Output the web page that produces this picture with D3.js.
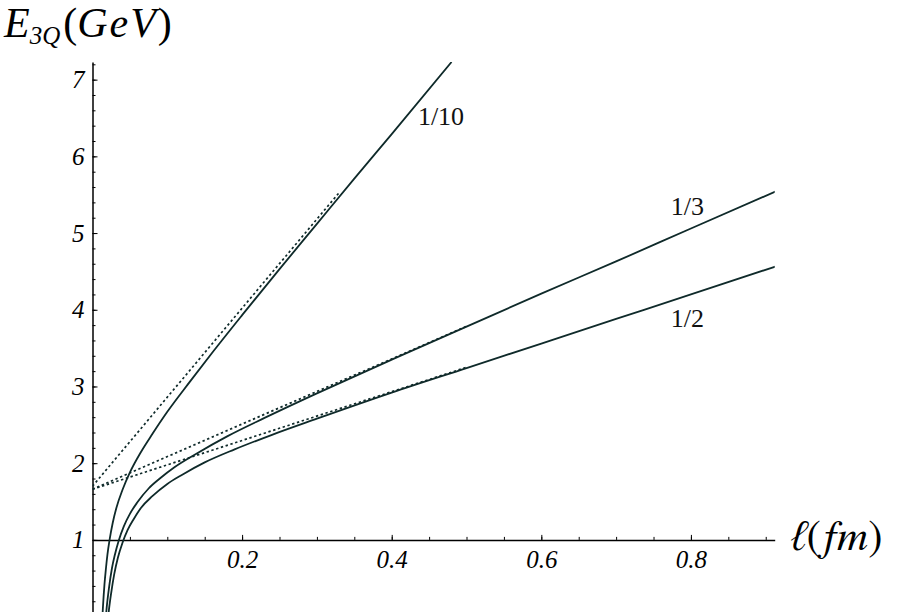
<!DOCTYPE html>
<html>
<head>
<meta charset="utf-8">
<script src="https://cdn.jsdelivr.net/npm/d3@7"></script>
</head>
<body style="margin:0">
<script>
/** DATA */
// l in fm, E_3Q in GeV, one curve per value of the parameter (1/10, 1/3, 1/2)
const ell_10 = [0.0125, 0.013, 0.014, 0.016, 0.018, 0.02, 0.023, 0.027, 0.032, 0.04, 0.05, 0.065, 0.08, 0.1, 0.13, 0.16, 0.2, 0.25, 0.3, 0.35, 0.4, 0.48];
const E_10   = [-0.15, -0.05, 0.13, 0.42, 0.63, 0.81, 1.01, 1.22, 1.42, 1.65, 1.88, 2.15, 2.38, 2.67, 3.06, 3.44, 3.93, 4.53, 5.12, 5.71, 6.29, 7.23];

const ell_3 = [0.017, 0.019, 0.022, 0.026, 0.03, 0.035, 0.042, 0.05, 0.06, 0.075, 0.09, 0.11, 0.14, 0.18, 0.23, 0.3, 0.4, 0.5, 0.6, 0.7, 0.8, 0.915];
const E_3   = [-0.10, 0.12, 0.37, 0.63, 0.81, 0.99, 1.18, 1.34, 1.49, 1.67, 1.80, 1.95, 2.13, 2.35, 2.59, 2.91, 3.35, 3.78, 4.21, 4.63, 5.06, 5.55];

const ell_2 = [0.02, 0.022, 0.025, 0.029, 0.034, 0.04, 0.047, 0.055, 0.065, 0.08, 0.1, 0.12, 0.15, 0.19, 0.24, 0.3, 0.4, 0.5, 0.6, 0.7, 0.8, 0.915];
const E_2   = [-0.10, 0.09, 0.31, 0.55, 0.77, 0.96, 1.13, 1.27, 1.42, 1.57, 1.73, 1.85, 2.01, 2.18, 2.37, 2.58, 2.92, 3.24, 3.56, 3.88, 4.20, 4.57];

// dotted linear asymptotes (two end points each)
const asymEll_10 = [0, 0.33],  asymE_10 = [1.70, 5.53];
const asymEll_3  = [0, 0.5],   asymE_3  = [1.66, 3.785];
const asymEll_2  = [0, 0.5],   asymE_2  = [1.66, 3.25];

const seriesNames = ["1/10", "1/3", "1/2"];

const xMajor = [0.2, 0.4, 0.6, 0.8];
const xMinor = d3.range(1, 19).map(i => i * 0.05);
const yMajor = [1, 2, 3, 4, 5, 6, 7];
const yMinor = d3.range(1, 37).map(i => i * 0.2);

/** CONSTANTS */
const width = 899, height = 612,
  curveColor = "#0f2a2a";

/** SCALES */
const xScale = d3.scaleLinear().domain([0, 0.912]).range([92.5, 774.7]);
const yScale = d3.scaleLinear().domain([0.06, 7.23]).range([612, 62]);

const svg = d3.select("body").append("svg")
  .attr("width", width)
  .attr("height", height)
  .style("display", "block");

const styleTicks = g => g.selectAll(".tick text")
  .attr("font-family", "Liberation Serif")
  .attr("font-style", "italic")
  .attr("font-size", 25)
  .attr("fill", "#000");

/** AXES */
// minor ticks, inside the plot
svg.append("g")
  .attr("transform", `translate(0, ${yScale(1)})`)
  .call(d3.axisBottom(xScale).tickValues(xMinor).tickSizeInner(-3).tickSizeOuter(0).tickFormat(""))
  .call(g => g.select(".domain").remove());
svg.append("g")
  .attr("transform", `translate(${xScale(0)}, 0)`)
  .call(d3.axisLeft(yScale).tickValues(yMinor).tickSizeInner(-3).tickSizeOuter(0).tickFormat(""))
  .call(g => g.select(".domain").remove());

// major ticks + labels
svg.append("g")
  .attr("transform", `translate(0, ${yScale(1)})`)
  .call(d3.axisBottom(xScale).tickValues(xMajor).tickSizeInner(-5).tickSizeOuter(0).tickPadding(10).tickFormat(d => d))
  .call(g => g.select(".domain").attr("stroke-width", 1.5))
  .call(styleTicks);
svg.append("g")
  .attr("transform", `translate(${xScale(0)}, 0)`)
  .call(d3.axisLeft(yScale).tickValues(yMajor).tickSizeInner(-5).tickSizeOuter(0).tickPadding(8).tickFormat(d => d))
  .call(g => g.select(".domain").attr("stroke-width", 1.5))
  .call(styleTicks);

/** CURVES */
svg.append("clipPath").attr("id", "plot")
  .append("rect")
  .attr("x", xScale(0)).attr("y", yScale(7.23))
  .attr("width", xScale(0.912) - xScale(0)).attr("height", height - yScale(7.23));

const line = d3.line()
  .x(d => xScale(d[0]))
  .y(d => yScale(d[1]))
  .curve(d3.curveMonotoneX);

const solid = [d3.zip(ell_10, E_10), d3.zip(ell_3, E_3), d3.zip(ell_2, E_2)];
const dotted = [d3.zip(asymEll_10, asymE_10), d3.zip(asymEll_3, asymE_3), d3.zip(asymEll_2, asymE_2)];

const plot = svg.append("g").attr("clip-path", "url(#plot)");

plot.selectAll("path.asym")
  .data(dotted)
  .join("path")
  .attr("class", "asym")
  .attr("d", d3.line().x(d => xScale(d[0])).y(d => yScale(d[1])))
  .attr("fill", "none")
  .attr("stroke", curveColor)
  .attr("stroke-width", 1.7)
  .attr("stroke-dasharray", "2.4,2.6");

plot.selectAll("path.curve")
  .data(solid)
  .join("path")
  .attr("class", "curve")
  .attr("d", line)
  .attr("fill", "none")
  .attr("stroke", curveColor)
  .attr("stroke-width", 1.8);

/** LABELS */
// anchors (data coords) for the curve labels
const labelAt = [[0.435, 6.41], [0.773, 5.24], [0.773, 3.78]];
svg.selectAll("text.series")
  .data(seriesNames)
  .join("text")
  .attr("class", "series")
  .attr("x", (d, i) => xScale(labelAt[i][0]))
  .attr("y", (d, i) => yScale(labelAt[i][1]))
  .attr("font-family", "Liberation Serif")
  .attr("font-size", 26)
  .attr("fill", "#111")
  .text(d => d);

// y title: E_3Q(GeV)
const yTitle = svg.append("text")
  .attr("x", 4).attr("y", 37)
  .attr("font-family", "Liberation Serif")
  .attr("font-size", 42)
  .attr("fill", "#000");
yTitle.append("tspan").attr("font-style", "italic").text("E");
yTitle.append("tspan").attr("font-style", "italic").attr("font-size", 25).attr("dy", 7).text("3Q");
yTitle.append("tspan").attr("dy", -7).attr("dx", 3).text("(");
yTitle.append("tspan").attr("font-style", "italic").attr("letter-spacing", 2).text("GeV");
yTitle.append("tspan").text(")");

// x title: l(fm) -- FreeSerif has a proper script ell
const xTitle = svg.append("text")
  .attr("x", 791).attr("y", 550)
  .attr("font-family", "FreeSerif")
  .attr("font-size", 43)
  .attr("fill", "#000");
xTitle.append("tspan").text("ℓ");
xTitle.append("tspan").text("(");
xTitle.append("tspan").attr("font-style", "italic").text("fm");
xTitle.append("tspan").text(")");
</script>
</body>
</html>
